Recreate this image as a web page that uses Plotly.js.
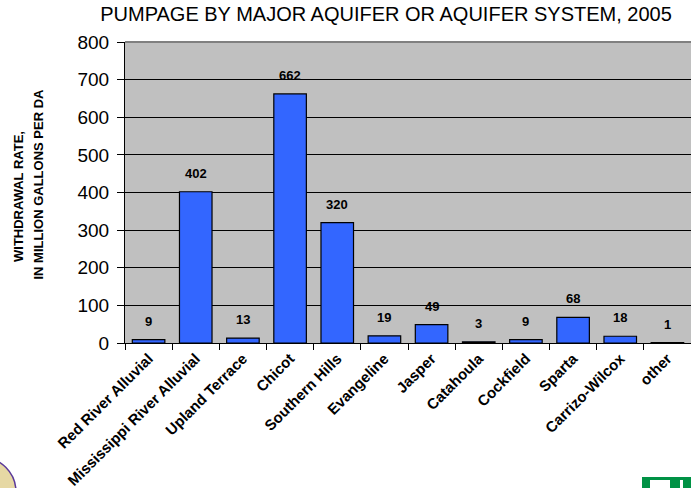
<!DOCTYPE html>
<html>
<head>
<meta charset="utf-8">
<script src="https://cdn.plot.ly/plotly-3.0.1.min.js"></script>
<style>
  html, body { margin: 0; padding: 0; background: #ffffff; }
  #chart { width: 691px; height: 488px; }
</style>
</head>
<body>
<div id="chart"></div>
<script>
// Ground-water pumpage by aquifer, 2005 (million gallons per day)
const aquifers = [
  "Red River Alluvial", "Mississippi River Alluvial", "Upland Terrace", "Chicot",
  "Southern Hills", "Evangeline", "Jasper", "Catahoula", "Cockfield",
  "Sparta", "Carrizo-Wilcox", "other"
];
const withdrawals = [9, 402, 13, 662, 320, 19, 49, 3, 9, 68, 18, 1];
const yTicks = [0, 100, 200, 300, 400, 500, 600, 700, 800];

const W = 691, H = 488;
const M = { l: 125, r: 0, t: 42, b: 145 };
const plotW = W - M.l - M.r, plotH = H - M.t - M.b;
// pixel position -> paper fraction
const px = x => (x - M.l) / plotW;
const py = y => (H - M.b - y) / plotH;

const font = "Liberation Sans, Arial, sans-serif";

const trace = {
  type: "bar",
  x: aquifers,
  y: withdrawals,
  marker: { color: "#3366FF", line: { color: "#000000", width: 1.2 } },
  hoverinfo: "x+y"
};

// value labels above each bar
const valueLabels = aquifers.map((a, i) => ({
  x: a, y: withdrawals[i], xref: "x", yref: "y",
  text: String(withdrawals[i]), showarrow: false,
  yanchor: "bottom", yshift: 9,
  font: { family: font, size: 13, color: "#000000", weight: "bold" }
}));

const layout = {
  width: W, height: H,
  margin: M,
  paper_bgcolor: "#ffffff",
  plot_bgcolor: "#C0C0C0",
  showlegend: false,
  bargap: 0.31,
  title: {
    text: "PUMPAGE BY MAJOR AQUIFER OR AQUIFER SYSTEM, 2005",
    font: { family: font, size: 20, color: "#000000" },
    x: px(386), xref: "paper", xanchor: "center",
    y: 1 - 14 / H, yanchor: "middle"
  },
  xaxis: {
    type: "category",
    tickson: "boundaries",
    ticks: "outside", ticklen: 6, tickcolor: "#000000", tickwidth: 1,
    tickangle: -45,
    ticklabelstandoff: 0,
    tickfont: { family: font, size: 15, color: "#000000", weight: "bold" },
    showline: true, linecolor: "#000000", linewidth: 1,
    showgrid: false, zeroline: false,
    fixedrange: true
  },
  yaxis: {
    range: [0, 800],
    tickvals: yTicks,
    ticks: "outside", ticklen: 7, tickcolor: "#000000", tickwidth: 1,
    ticklabelstandoff: 4,
    tickfont: { family: font, size: 19, color: "#000000" },
    showline: true, linecolor: "#000000", linewidth: 1,
    showgrid: true, gridcolor: "#000000", gridwidth: 1,
    zeroline: false,
    fixedrange: true
  },
  shapes: [
    // top border of the plot area
    { type: "line", xref: "paper", yref: "paper", x0: 0, x1: 1, y0: 1, y1: 1,
      line: { color: "#808080", width: 2 } },
    // seal in the lower-left corner
    { type: "circle", xref: "paper", yref: "paper",
      x0: px(-54), x1: px(16), y0: py(457), y1: py(527),
      fillcolor: "#E6D8A4", line: { color: "#5B3A9A", width: 1.5 } },
    // badge in the lower-right corner
    { type: "rect", xref: "paper", yref: "paper",
      x0: px(642), x1: px(692), y0: py(477), y1: py(490),
      fillcolor: "#009245", line: { width: 0 } },
    { type: "rect", xref: "paper", yref: "paper",
      x0: px(650), x1: px(670), y0: py(480), y1: py(490),
      fillcolor: "#ffffff", line: { width: 0 } },
    { type: "rect", xref: "paper", yref: "paper",
      x0: px(680), x1: px(683), y0: py(480), y1: py(490),
      fillcolor: "#ffffff", line: { width: 0 } }
  ],
  annotations: valueLabels.concat([
    { xref: "paper", yref: "paper", x: px(19), y: py(197),
      text: "WITHDRAWAL RATE,", textangle: -90, showarrow: false,
      xanchor: "center", yanchor: "middle",
      font: { family: font, size: 13, color: "#000000", weight: "bold" } },
    { xref: "paper", yref: "paper", x: px(38), y: py(282),
      text: "IN MILLION GALLONS PER DA", textangle: -90, showarrow: false,
      xanchor: "center", yanchor: "bottom",
      font: { family: font, size: 13, color: "#000000", weight: "bold" } }
  ])
};

Plotly.newPlot("chart", [trace], layout, { displayModeBar: false, staticPlot: true });
</script>
</body>
</html>
